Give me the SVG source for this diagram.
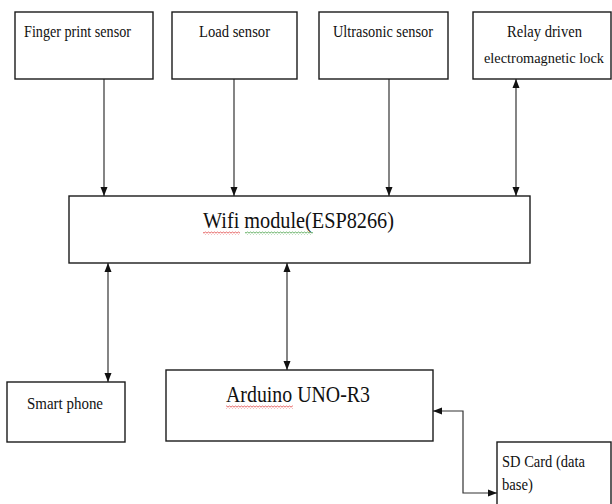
<svg xmlns="http://www.w3.org/2000/svg" width="612" height="504" viewBox="0 0 612 504">
<style>
  .box { fill: #ffffff; stroke: #1a1a1a; stroke-width: 1.4; }
  text { font-family: "Liberation Serif", "DejaVu Serif", "Times New Roman", serif; fill: #111111; }
  .s { font-size: 17px; }
  .l { font-size: 24px; }
  .c { fill: none; stroke: #333333; stroke-width: 1.2; }
</style>
<defs>
  <marker id="ah" markerUnits="userSpaceOnUse" markerWidth="10" markerHeight="8" refX="9" refY="4" orient="auto-start-reverse">
    <path d="M0,0.5 L9,4 L0,7.5 z" fill="#111111"/>
  </marker>
  <pattern id="wr" patternUnits="userSpaceOnUse" x="0" y="0" width="3" height="3">
    <path d="M0,2.5 L1.5,0.5 L3,2.5" fill="none" stroke="#e03a3a" stroke-width="0.8"/>
  </pattern>
  <pattern id="wg" patternUnits="userSpaceOnUse" x="0" y="0" width="3" height="3">
    <path d="M0,2.5 L1.5,0.5 L3,2.5" fill="none" stroke="#3a9a3a" stroke-width="0.8"/>
  </pattern>
</defs>
<rect width="612" height="504" fill="#ffffff"/>

<g id="connectors">
  <line class="c" x1="104" y1="79" x2="104" y2="196" marker-end="url(#ah)"/>
  <line class="c" x1="234" y1="79" x2="234" y2="196" marker-end="url(#ah)"/>
  <line class="c" x1="389" y1="79" x2="389" y2="196" marker-end="url(#ah)"/>
  <line class="c" x1="516" y1="79" x2="516" y2="196" marker-start="url(#ah)" marker-end="url(#ah)"/>
  <line class="c" x1="108" y1="263" x2="108" y2="382" marker-start="url(#ah)" marker-end="url(#ah)"/>
  <line class="c" x1="287" y1="263" x2="287" y2="370" marker-start="url(#ah)" marker-end="url(#ah)"/>
  <polyline class="c" points="433,411 463,411 463,493 497,493" marker-start="url(#ah)" marker-end="url(#ah)"/>
</g>

<g id="finger">
  <rect class="box" x="15" y="12" width="138" height="67"/>
  <text class="s" x="24" y="37" textLength="107" lengthAdjust="spacingAndGlyphs">Finger print sensor</text>
</g>
<g id="load">
  <rect class="box" x="172" y="12" width="125" height="67"/>
  <text class="s" x="199" y="37" textLength="71" lengthAdjust="spacingAndGlyphs">Load sensor</text>
</g>
<g id="ultrasonic">
  <rect class="box" x="319" y="12" width="129" height="67"/>
  <text class="s" x="333" y="37" textLength="100" lengthAdjust="spacingAndGlyphs">Ultrasonic sensor</text>
</g>
<g id="relay">
  <rect class="box" x="473" y="12" width="138" height="67"/>
  <text class="s" x="507" y="37" textLength="75" lengthAdjust="spacingAndGlyphs">Relay driven</text>
  <text x="484" y="63" font-size="15" textLength="120" lengthAdjust="spacingAndGlyphs">electromagnetic lock</text>
</g>
<g id="wifi">
  <rect class="box" x="69" y="196" width="461" height="67"/>
  <text class="l" x="203" y="228" textLength="191" lengthAdjust="spacingAndGlyphs">Wifi module(ESP8266)</text>
  <rect x="203" y="231.5" width="37" height="3" fill="url(#wr)"/>
  <rect x="245" y="231.5" width="68" height="3" fill="url(#wg)"/>
</g>
<g id="smartphone">
  <rect class="box" x="7" y="382" width="118" height="60"/>
  <text class="s" x="27" y="409" textLength="76" lengthAdjust="spacingAndGlyphs">Smart phone</text>
</g>
<g id="arduino">
  <rect class="box" x="166" y="370" width="267" height="71"/>
  <text class="l" x="226" y="402" textLength="144" lengthAdjust="spacingAndGlyphs">Arduino UNO-R3</text>
  <rect x="226" y="405.5" width="67" height="3" fill="url(#wr)"/>
</g>
<g id="sdcard">
  <rect class="box" x="497" y="442" width="114" height="66"/>
  <text class="s" x="502" y="467" textLength="83" lengthAdjust="spacingAndGlyphs">SD Card (data</text>
  <text class="s" x="502" y="490" textLength="31" lengthAdjust="spacingAndGlyphs">base)</text>
</g>
</svg>
